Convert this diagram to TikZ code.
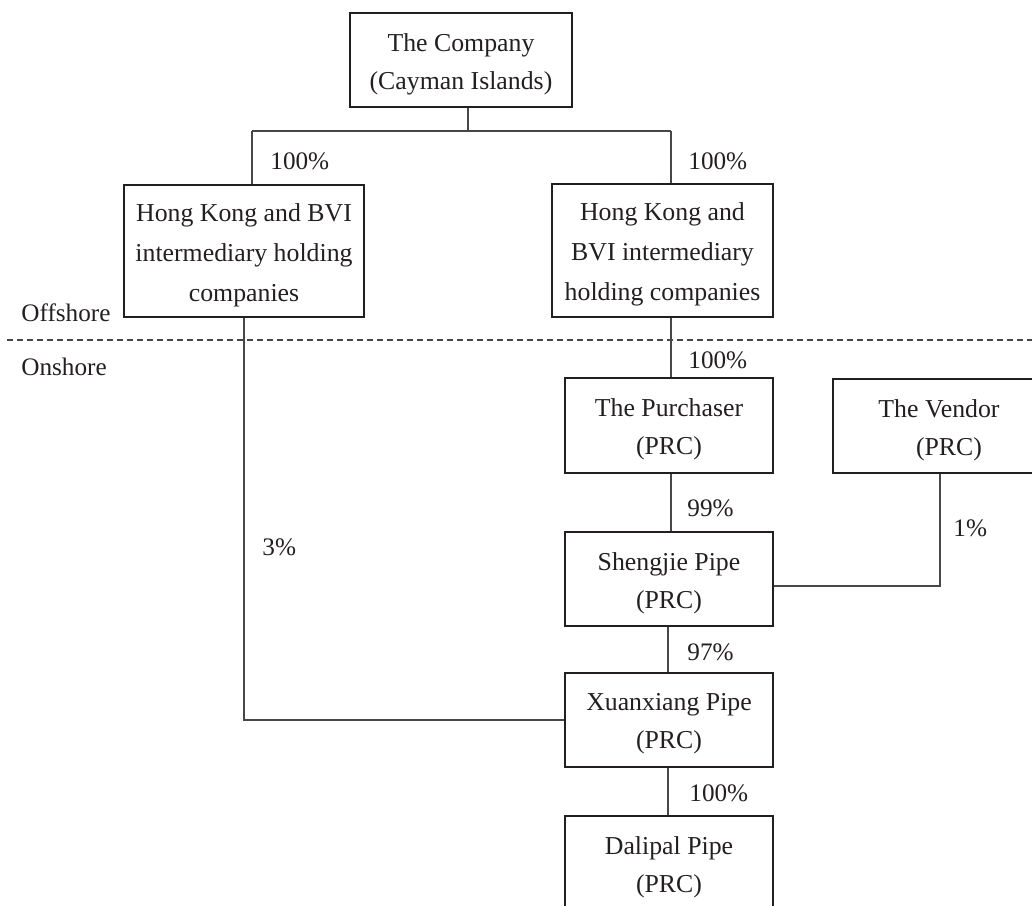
\documentclass[tikz,border=0pt]{standalone}
\usepackage{fontspec}
\setmainfont{Liberation Serif}
\definecolor{ink}{HTML}{231F20}
\definecolor{wire}{HTML}{4A4647}
\begin{document}
\begin{tikzpicture}[x=0.5pt,y=-0.5pt,
  box/.style={draw=ink,line width=0.75pt,inner sep=0pt},
  boxtext/.style={align=center,inner sep=0pt,text=ink,yshift=-2pt,
    font=\fontsize{12.9}{19}\selectfont},
  boxtext3/.style={boxtext,font=\fontsize{12.9}{20}\selectfont},
  lab/.style={anchor=west,inner sep=0pt,text=ink,font=\fontsize{12.6}{15}\selectfont},
  wirel/.style={draw=wire,line width=0.7pt}]
\useasboundingbox (0,0) rectangle (1032,905);
\begin{scope}
\clip (0,0) rectangle (1032,905);
% dashed boundary
\coordinate (dl) at (7,340);
\coordinate (dr) at (1032,340);
\draw[wire,line width=0.6pt,dash pattern=on 3pt off 2pt] (dl) -- (dr);
\node[lab] (off) at (21,313) {Offshore};
\node[lab] (on) at (21,367) {Onshore};
% boxes
\node[box,minimum width=111pt,minimum height=47pt,
  label={[boxtext]center:{The Company\\(Cayman Islands)}}] (comp) at (461,60) {};
\node[box,minimum width=120pt,minimum height=66pt,
  label={[boxtext3]center:{Hong Kong and BVI\\intermediary holding\\companies}}] (hkL) at (244,251) {};
\node[box,minimum width=110.5pt,minimum height=66.5pt,
  label={[boxtext3]center:{Hong Kong and\\BVI intermediary\\holding companies}}] (hkR) at (662.5,250.5) {};
\node[box,minimum width=104pt,minimum height=47.5pt,
  label={[boxtext]center:{The Purchaser\\(PRC)}}] (pur) at (669,425.5) {};
\node[box,minimum width=106pt,minimum height=47pt,
  label={[boxtext]center:{The Vendor\\\hspace*{10pt}(PRC)}}] (ven) at (939,426) {};
\node[box,minimum width=104pt,minimum height=47pt,
  label={[boxtext]center:{Shengjie Pipe\\(PRC)}}] (shg) at (669,579) {};
\node[box,minimum width=104pt,minimum height=47pt,
  label={[boxtext]center:{Xuanxiang Pipe\\(PRC)}}] (xx) at (669,720) {};
\node[box,minimum width=104pt,minimum height=47pt,
  label={[boxtext]center:{Dalipal Pipe\\(PRC)}}] (dal) at (669,863) {};
% connectors
\coordinate (j) at (468,131);
\coordinate (aL) at (252,131);
\coordinate (aR) at (671,131);
\coordinate (s) at (668,0);
\coordinate (v) at (940,586);
\coordinate (l) at (244,720);
\draw[wirel] (comp.south -| j) -- (j);
\draw[wirel] (aL) -- (aR);
\draw[wirel] (aL) -- (hkL.north -| aL);
\draw[wirel] (aR) -- (hkR.north -| aR);
\draw[wirel] (hkR.south -| aR) -- (pur.north -| aR);
\draw[wirel] (pur.south -| aR) -- (shg.north -| aR);
\draw[wirel] (shg.south -| s) -- (xx.north -| s);
\draw[wirel] (xx.south -| s) -- (dal.north -| s);
\draw[wirel] (ven.south -| v) -- (v) -- (shg.east |- v);
\draw[wirel] (hkL.south -| l) -- (l) -- (xx.west |- l);
% labels
\node[lab] (p1) at (270,161) {100\%};
\node[lab] (p2) at (688,161) {100\%};
\node[lab] (p3) at (688,360) {100\%};
\node[lab] (p4) at (687,508) {99\%};
\node[lab] (p5) at (953,528) {1\%};
\node[lab] (p6) at (262,547) {3\%};
\node[lab] (p7) at (687,652) {97\%};
\node[lab] (p8) at (689,793) {100\%};
\end{scope}
\end{tikzpicture}
\end{document}
